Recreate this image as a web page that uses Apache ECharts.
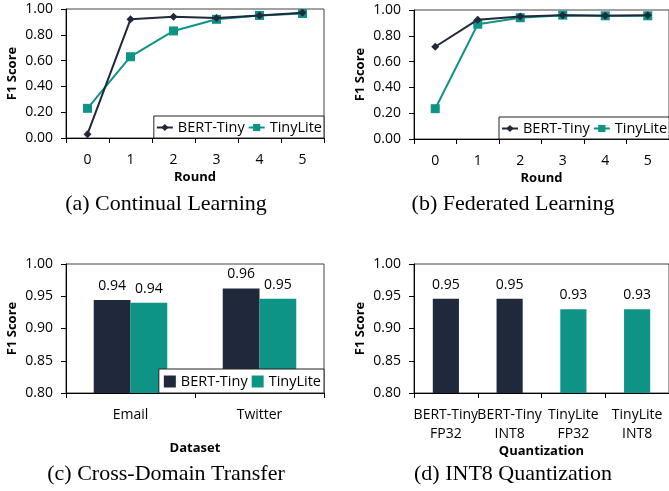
<!DOCTYPE html>
<html><head><meta charset="utf-8">
<script src="https://cdn.jsdelivr.net/npm/echarts@6/dist/echarts.min.js"></script>
<style>html,body{margin:0;padding:0;background:#fff}#c{width:669px;height:491px}</style>
</head><body><div id="c"></div>
<script>
// ---- data ----
const rounds = ['0','1','2','3','4','5'];
const clBert = [0.03, 0.92, 0.94, 0.93, 0.95, 0.97];
const clTiny = [0.23, 0.63, 0.83, 0.92, 0.95, 0.965];
const flBert = [0.715, 0.925, 0.95, 0.96, 0.955, 0.96];
const flTiny = [0.235, 0.89, 0.94, 0.96, 0.955, 0.955];
const datasets = ['Email', 'Twitter'];
const cdBert = [0.944, 0.962];
const cdTiny = [0.940, 0.946];
const quantCats = ['BERT-Tiny\nFP32', 'BERT-Tiny\nINT8', 'TinyLite\nFP32', 'TinyLite\nINT8'];
const quantVals = [0.946, 0.946, 0.930, 0.930];
const quantModel = ['BERT-Tiny', 'BERT-Tiny', 'TinyLite', 'TinyLite'];

const NAVY = '#1f293b', TEAL = '#0e9486';
const colorOf = {'BERT-Tiny': NAVY, 'TinyLite': TEAL};
const FONT = 'Open Sans';
const grids = [
  {left: 66, top: 9, width: 258, height: 129},
  {left: 414, top: 10, width: 258, height: 129},
  {left: 66, top: 264, width: 258, height: 129},
  {left: 414, top: 264, width: 258, height: 129}
].map(g => Object.assign(g, {show: true, borderColor: '#444', borderWidth: 1, backgroundColor: 'transparent'}));

function xAx(i, data, name, gap) {
  return {type: 'category', gridIndex: i, data: data, name: name, nameLocation: 'middle', nameGap: gap,
    nameTextStyle: {fontFamily: FONT, fontWeight: 'bold', fontSize: 13, color: '#000'},
    axisLine: {lineStyle: {color: '#000', width: 1}},
    axisTick: {show: true, alignWithLabel: false, length: 5, lineStyle: {color: '#000'}},
    axisLabel: {fontFamily: FONT, fontSize: 14, color: '#000', margin: 13, interval: 0, lineHeight: 19},
    splitLine: {show: false}};
}
function yAx(i, min, max, interval, digits) {
  return {type: 'value', gridIndex: i, min: min, max: max, interval: interval,
    name: 'F1 Score', nameLocation: 'middle', nameGap: 47,
    nameTextStyle: {fontFamily: FONT, fontWeight: 'bold', fontSize: 13, color: '#000'},
    axisLine: {show: true, lineStyle: {color: '#000', width: 1}},
    axisTick: {show: true, length: 5, lineStyle: {color: '#000'}},
    axisLabel: {fontFamily: FONT, fontSize: 14, color: '#000', margin: 13, formatter: v => v.toFixed(digits)},
    splitLine: {show: false}};
}
function lineSeries(name, data, xi, yi) {
  const isB = name === 'BERT-Tiny';
  return {type: 'line', name: name, data: data, xAxisIndex: xi, yAxisIndex: yi,
    symbol: isB ? 'diamond' : 'rect', symbolSize: isB ? 8 : 9, showAllSymbol: true,
    itemStyle: {color: colorOf[name]}, lineStyle: {color: colorOf[name], width: 2}, z: isB ? 3 : 2};
}
const barLabel = {show: true, position: 'top', distance: 7, fontFamily: FONT, fontSize: 14, color: '#000', formatter: p => p.value.toFixed(2)};
function legendAt(pos, icon) {
  return Object.assign({orient: 'horizontal', itemGap: icon ? 4 : 3, padding: icon ? [5, 3, 4, 5] : [4, 2, 3, 2], width: 260,
    backgroundColor: '#fff', borderColor: '#222', borderWidth: 1, borderRadius: 0,
    itemWidth: icon ? 12 : 16, itemHeight: icon ? 12 : 9,
    data: icon ? [{name: 'BERT-Tiny', icon: icon}, {name: 'TinyLite', icon: icon}] : ['BERT-Tiny', 'TinyLite'],
    textStyle: {fontFamily: FONT, fontSize: 14.5, color: '#000'}, selectedMode: false}, pos);
}
const capStyle = {fontFamily: 'Liberation Serif', fontSize: 22, fontWeight: 'normal', color: '#000'};
const option = {
  animation: false,
  title: [
    {text: '(a) Continual Learning', left: 166, top: 193, textAlign: 'center', textStyle: capStyle, padding: 0},
    {text: '(b) Federated Learning', left: 513, top: 193, textAlign: 'center', textStyle: capStyle, padding: 0},
    {text: '(c) Cross-Domain Transfer', left: 166, top: 463, textAlign: 'center', textStyle: capStyle, padding: 0},
    {text: '(d) INT8 Quantization', left: 513, top: 463, textAlign: 'center', textStyle: capStyle, padding: 0}
  ],
  grid: grids,
  legend: [legendAt({right: 345, bottom: 353}), legendAt({left: 499, bottom: 352}), legendAt({right: 345, bottom: 98}, 'rect')],
  xAxis: [xAx(0, rounds, 'Round', 33), xAx(1, rounds, 'Round', 33), xAx(2, datasets, 'Dataset', 49), xAx(3, quantCats, 'Quantization', 48)],
  yAxis: [yAx(0, 0, 1, 0.2, 2), yAx(1, 0, 1, 0.2, 2), yAx(2, 0.8, 1.0, 0.05, 2), yAx(3, 0.8, 1.0, 0.05, 2)],
  series: [
    lineSeries('BERT-Tiny', clBert, 0, 0), lineSeries('TinyLite', clTiny, 0, 0),
    lineSeries('BERT-Tiny', flBert, 1, 1), lineSeries('TinyLite', flTiny, 1, 1),
    {type: 'bar', name: 'BERT-Tiny', data: cdBert, xAxisIndex: 2, yAxisIndex: 2, barGap: '0%', barCategoryGap: '43%', itemStyle: {color: NAVY}, label: barLabel},
    {type: 'bar', name: 'TinyLite', data: cdTiny, xAxisIndex: 2, yAxisIndex: 2, barGap: '0%', barCategoryGap: '43%', itemStyle: {color: TEAL}, label: barLabel},
    {type: 'bar', name: 'Quantization', xAxisIndex: 3, yAxisIndex: 3, barWidth: '41%',
      data: quantVals.map((v, i) => ({value: v, itemStyle: {color: colorOf[quantModel[i]]}})), label: barLabel}
  ]
};
const chart = echarts.init(document.getElementById('c'), null, {renderer: 'canvas'});
chart.setOption(option);
</script></body></html>
